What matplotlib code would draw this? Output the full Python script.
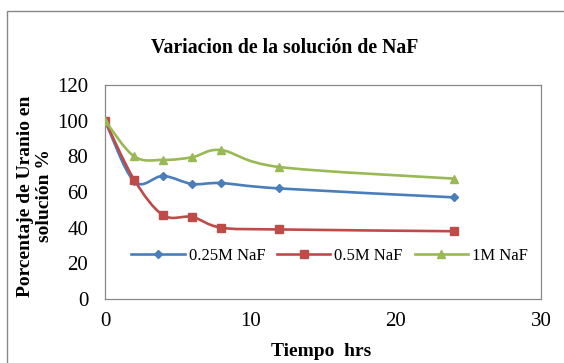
import numpy as np
import matplotlib.pyplot as plt
from matplotlib.path import Path
from matplotlib.patches import PathPatch, Rectangle
from matplotlib.lines import Line2D

plt.rcParams['font.family'] = ['Liberation Serif', 'DejaVu Serif']

tiempo = [0, 2, 4, 6, 8, 12, 24]
naf_025 = [100, 66, 69, 64.5, 65, 62, 57]
naf_05 = [100, 67, 47, 46, 40, 39, 38]
naf_1 = [100, 80, 78, 79.5, 83.5, 74, 67.5]
labels = ['0.25M NaF', '0.5M NaF', '1M NaF']
colors = ['#4A7EBB', '#BE4B48', '#98B954']
markers = ['D', 's', '^']
msizes = [4, 6, 6]


def smooth_path(x, y):
    # excel-like smoothed line: cardinal spline as cubic bezier segments
    p = np.column_stack([x, y]).astype(float)
    n = len(p)
    verts = [p[0]]
    codes = [Path.MOVETO]
    for i in range(n - 1):
        p0 = p[i - 1] if i > 0 else p[i]
        p3 = p[i + 2] if i + 2 < n else p[i + 1]
        c1 = p[i] + (p[i + 1] - p0) / 6
        c2 = p[i + 1] - (p3 - p[i]) / 6
        verts += [c1, c2, p[i + 1]]
        codes += [Path.CURVE4] * 3
    return Path(verts, codes)


fig = plt.figure(figsize=(5.64, 3.63), dpi=100)
ax = fig.add_axes([105 / 564, 1 - 299 / 363, 436 / 564, 214 / 363])

handles = []
for ys, lab, c, m, ms in zip([naf_025, naf_05, naf_1], labels, colors, markers, msizes):
    ax.add_patch(PathPatch(smooth_path(tiempo, ys), facecolor='none',
                           edgecolor=c, linewidth=1.9, zorder=3))
    ax.plot(tiempo, ys, linestyle='none', marker=m, markersize=ms,
            color=c, zorder=4)
    handles.append(Line2D([], [], color=c, linewidth=1.9, marker=m, markersize=ms))

ax.set_xlim(0, 30)
ax.set_ylim(0, 120)
ax.set_xticks([0, 10, 20, 30])
ax.set_yticks(range(0, 121, 20))
ax.tick_params(length=0, labelsize=15)
ax.tick_params(axis='x', pad=9)
ax.tick_params(axis='y', pad=12)
for s in ax.spines.values():
    s.set_color('#888888')
    s.set_linewidth(0.9)

ax.legend(handles, labels, loc='center', bbox_to_anchor=(0.515, 0.2), ncol=3,
          frameon=False, fontsize=12, handlelength=3.2, columnspacing=0.7,
          handletextpad=0.25)

fig.text(285 / 564, 1 - 48 / 363, 'Variacion de la solución de NaF',
         ha='center', va='center', fontsize=14.2, fontweight='bold')
fig.text(35 / 564, 1 - 196 / 363, 'Porcentaje de Uranio en\nsolución %',
         ha='center', va='center', rotation=90, fontsize=14,
         fontweight='bold', linespacing=1.2)
fig.text(321 / 564, 1 - 352 / 363, 'Tiempo  hrs', ha='center', va='center',
         fontsize=14, fontweight='bold')

fig.patches.append(Rectangle((7 / 564, -0.1), 1.2, 1 - 11 / 363 + 0.1,
                             transform=fig.transFigure, fill=False,
                             edgecolor='#888888', linewidth=1.0))

fig.savefig('out.png', dpi=100)
